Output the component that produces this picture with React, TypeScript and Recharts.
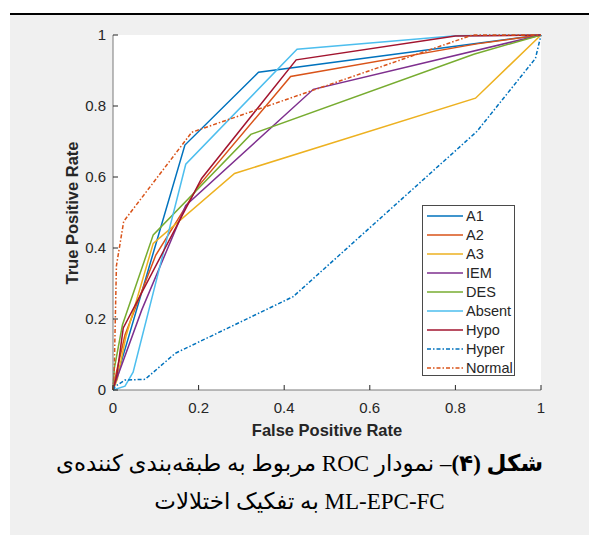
import React from 'react';
import { LineChart, Line, XAxis, YAxis } from 'recharts';

// ROC points: [false positive rate, true positive rate]
const A1 = [[0, 0], [0.005, 0.02], [0.168, 0.69], [0.34, 0.895], [1, 1]];
const A2 = [[0, 0], [0.008, 0.05], [0.028, 0.155], [0.1, 0.38], [0.2, 0.575], [0.415, 0.883], [0.85, 0.975], [1, 1]];
const A3 = [[0, 0], [0.01, 0.03], [0.03, 0.15], [0.094, 0.413], [0.284, 0.61], [0.847, 0.822], [1, 1]];
const IEM = [[0, 0], [0.005, 0.02], [0.067, 0.225], [0.17, 0.52], [0.468, 0.847], [1, 1]];
const DES = [[0, 0], [0.003, 0.06], [0.022, 0.183], [0.094, 0.437], [0.322, 0.72], [0.843, 0.946], [1, 1]];
const ABSENT = [[0, 0], [0.028, 0.011], [0.047, 0.05], [0.17, 0.636], [0.43, 0.96], [0.8, 0.998], [1, 1]];
const HYPO = [[0, 0], [0.009, 0.042], [0.024, 0.175], [0.207, 0.596], [0.428, 0.93], [0.8, 0.997], [1, 1]];
const HYPER = [[0, 0], [0.005, 0.01], [0.028, 0.028], [0.075, 0.03], [0.145, 0.103], [0.421, 0.263], [0.85, 0.728], [0.987, 0.934], [1, 1]];
const NORMAL = [[0, 0], [0.003, 0.06], [0.008, 0.35], [0.025, 0.475], [0.184, 0.726], [0.84, 1], [1, 1]];

const TICKS = [0, 0.2, 0.4, 0.6, 0.8, 1];

const DASH_DOT = '4 2 1.5 2';

const SERIES = [
  { name: 'A1', points: A1, color: '#0072BD', dash: undefined },
  { name: 'A2', points: A2, color: '#D95319', dash: undefined },
  { name: 'A3', points: A3, color: '#EDB120', dash: undefined },
  { name: 'IEM', points: IEM, color: '#7E2F8E', dash: undefined },
  { name: 'DES', points: DES, color: '#77AC30', dash: undefined },
  { name: 'Absent', points: ABSENT, color: '#4DBEEE', dash: undefined },
  { name: 'Hypo', points: HYPO, color: '#A2142F', dash: undefined },
  { name: 'Hyper', points: HYPER, color: '#0072BD', dash: DASH_DOT },
  { name: 'Normal', points: NORMAL, color: '#D95319', dash: DASH_DOT },
];

const FONT = '"Liberation Sans", Arial, Helvetica, sans-serif';
const TXT = '#262626';
const AXIS = '#7a7a7a';
const TICK_LEN = 5;

const BottomTick = ({ x, y, payload }: any) => (
  <g>
    <line x1={x} y1={y} x2={x} y2={y - TICK_LEN} stroke={TXT} />
    <text x={x} y={y + 23} textAnchor="middle" fontSize={15} fill={TXT} fontFamily={FONT}>
      {String(payload.value)}
    </text>
  </g>
);

const LeftTick = ({ x, y, payload }: any) => (
  <g>
    <line x1={x} y1={y} x2={x + TICK_LEN} y2={y} stroke={TXT} />
    <text x={x - 7} y={y + 5} textAnchor="end" fontSize={15} fill={TXT} fontFamily={FONT}>
      {String(payload.value)}
    </text>
  </g>
);

const TopTick = ({ x, y }: any) => (
  <line x1={x} y1={y} x2={x} y2={y + TICK_LEN} stroke={TXT} />
);

const RightTick = ({ x, y }: any) => (
  <line x1={x} y1={y} x2={x - TICK_LEN} y2={y} stroke={TXT} />
);

const Legend = () => (
  <div
    style={{
      position: 'absolute',
      left: 422,
      top: 205,
      width: 93,
      height: 171,
      background: '#fff',
      border: '1px solid #4a4a4a',
      fontFamily: FONT,
      fontSize: 14.5,
      color: TXT,
      paddingTop: 1,
      boxSizing: 'border-box',
    }}
  >
    {SERIES.map((s) => (
      <div key={s.name} style={{ height: 18.9, display: 'flex', alignItems: 'center' }}>
        <svg width={41} height={10} style={{ flex: 'none' }}>
          <line x1={4} y1={5} x2={40} y2={5} stroke={s.color} strokeWidth={1.5} strokeDasharray={s.dash} />
        </svg>
        <span style={{ marginLeft: 2, lineHeight: '18px' }}>{s.name}</span>
      </div>
    ))}
  </div>
);

export default function App() {
  return (
    <div style={{ position: 'absolute', left: 0, top: 0, width: 589, height: 535, background: '#fff', overflow: 'hidden' }}>
      <div style={{ position: 'absolute', left: 10, top: 13, width: 579, height: 2, background: '#000' }} />
      <div style={{ position: 'absolute', left: 10, top: 15, width: 579, height: 520, background: '#f0f0f0' }} />
      {/* white plot area */}
      <div style={{ position: 'absolute', left: 113, top: 35, width: 428, height: 355, background: '#fff' }} />

      <div style={{ position: 'absolute', left: 10, top: 15 }}>
        <LineChart width={579} height={440} margin={{ top: 20, right: 48, bottom: 0, left: 0 }}>
          <XAxis
            type="number"
            dataKey="fpr"
            domain={[0, 1]}
            ticks={TICKS}
            height={65}
            tickSize={0}
            tickMargin={0}
            tickLine={false}
            axisLine={{ stroke: AXIS }}
            tick={<BottomTick />}
            interval={0}
            label={() => (
              <text x={317} y={421} textAnchor="middle" fontSize={16.5} fontWeight="bold" fill={TXT} fontFamily={FONT}>
                False Positive Rate
              </text>
            )}
          />
          <XAxis
            xAxisId="top"
            orientation="top"
            type="number"
            domain={[0, 1]}
            ticks={TICKS}
            height={0}
            tickSize={0}
            tickMargin={0}
            tickLine={false}
            axisLine={{ stroke: AXIS }}
            tick={<TopTick />}
            interval={0}
          />
          <YAxis
            type="number"
            domain={[0, 1]}
            ticks={TICKS}
            width={103}
            tickSize={0}
            tickMargin={0}
            tickLine={false}
            axisLine={{ stroke: AXIS }}
            tick={<LeftTick />}
            interval={0}
            label={() => (
              <text
                x={0}
                y={0}
                transform="translate(68 198) rotate(-90)"
                textAnchor="middle"
                fontSize={16.5}
                fontWeight="bold"
                fill={TXT}
                fontFamily={FONT}
              >
                True Positive Rate
              </text>
            )}
          />
          <YAxis
            yAxisId="right"
            orientation="right"
            type="number"
            domain={[0, 1]}
            ticks={TICKS}
            width={0}
            tickSize={0}
            tickMargin={0}
            tickLine={false}
            axisLine={{ stroke: AXIS }}
            tick={<RightTick />}
            interval={0}
          />
          {SERIES.map((s) => (
            <Line
              key={s.name}
              name={s.name}
              data={s.points.map(([fpr, tpr]) => ({ fpr, tpr }))}
              dataKey="tpr"
              type="linear"
              stroke={s.color}
              strokeWidth={1.5}
              strokeDasharray={s.dash}
              dot={false}
              activeDot={false}
              isAnimationActive={false}
            />
          ))}
        </LineChart>
      </div>

      <Legend />

      <div
        dir="rtl"
        style={{
          position: 'absolute',
          left: 10,
          top: 445,
          width: 579,
          textAlign: 'center',
          fontFamily: '"Liberation Serif", "Times New Roman", "DejaVu Sans", serif',
          fontSize: 23,
          lineHeight: '38px',
          color: '#000',
        }}
      >
        <div>
          <b>شکل (۴)</b>– نمودار ROC مربوط به طبقه‌بندی کننده‌ی
        </div>
        <div>ML-EPC-FC به تفکیک اختلالات</div>
      </div>
    </div>
  );
}
